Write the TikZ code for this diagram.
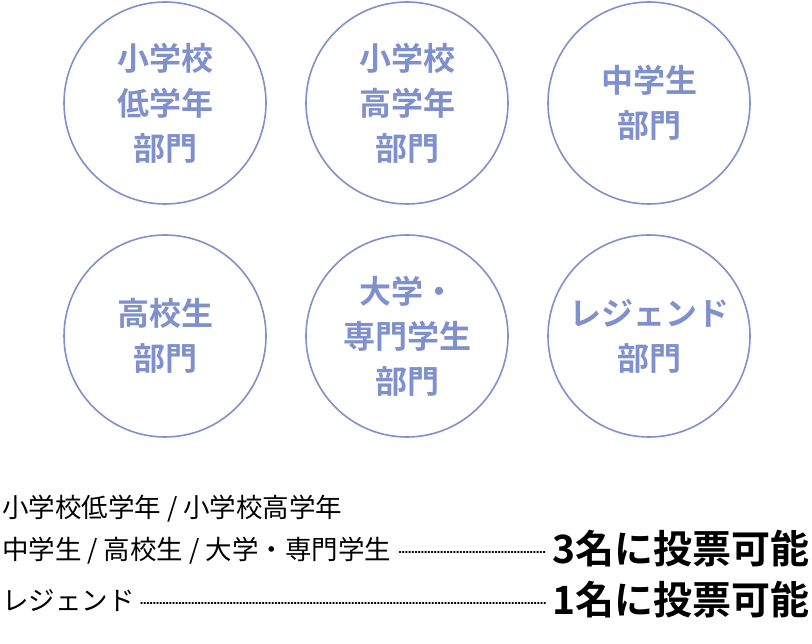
\documentclass[tikz,border=0pt]{standalone}
\usepackage{fontspec}
\setmainfont{Noto Sans CJK JP}
\newfontfamily\cjkbold{Noto Sans CJK JP Bold}
\usetikzlibrary{positioning}
\definecolor{bukai}{HTML}{7F90CC}
\begin{document}
\begin{tikzpicture}[x=1pt,y=-1pt,
  bukaicircle/.style = {draw=bukai, line width=1.6pt, circle, minimum size=202pt,
     text=bukai, font=\cjkbold\fontsize{32}{45}\selectfont, align=center},
  leader/.style = {dotted, line width=1.2pt, line cap=round},
  note/.style = {anchor=west, font=\fontsize{26.5}{42}\selectfont, align=left, inner sep=0pt},
  vote/.style = {anchor=east, font=\cjkbold\fontsize{39}{40}\selectfont, inner sep=0pt}]
\useasboundingbox (0,0) rectangle (812,644);
\node[bukaicircle] (low)    at (165,103) {小学校\\低学年\\部門};
\node[bukaicircle] (high)   at (407,103) {小学校\\高学年\\部門};
\node[bukaicircle] (junior) at (649,103) {中学生\\部門};
\node[bukaicircle] (senior) at (165,336) {高校生\\部門};
\node[bukaicircle] (univ)   at (407,336) {大学・\\専門学生\\部門};
\node[bukaicircle] (legend) at (649,336) {レジェンド\\部門};
% voting notes
\node[note] (grpa) at (2,530) {小学校低学年 / 小学校高学年\\中学生 / 高校生 / 大学・専門学生};
\node[note] (grpb) at (2,601) {レジェンド};
\node[vote] (vota) at (810,549) {3名に投票可能};
\node[vote] (votb) at (810,600) {1名に投票可能};
\draw[leader] ([xshift=8pt]grpa.east |- 0,552) -- ([xshift=-6pt]vota.west |- 0,552);
\draw[leader] ([xshift=6pt]grpb.east |- 0,603) -- ([xshift=-6pt]votb.west |- 0,603);
\end{tikzpicture}
\end{document}
